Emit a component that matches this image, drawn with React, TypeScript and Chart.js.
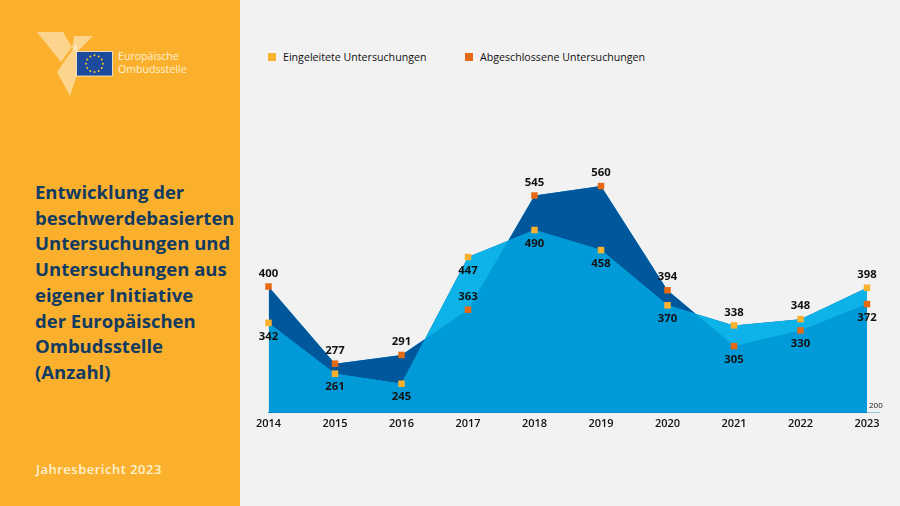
import { useEffect, useRef } from 'react'

import Chart from 'chart.js/auto'

const years = ['2014', '2015', '2016', '2017', '2018', '2019', '2020', '2021', '2022', '2023']
const eingeleitet = [342, 261, 245, 447, 490, 458, 370, 338, 348, 398]
const abgeschlossen = [400, 277, 291, 363, 545, 560, 394, 305, 330, 372]
const eingeleitetName = 'Eingeleitete Untersuchungen'
const abgeschlossenName = 'Abgeschlossene Untersuchungen'
const axisBase = 200
const axisTop = 600
// in 2017 the labels sit between the two markers
const flippedYear = '2017'

const titleLines = [
  'Entwicklung der',
  'beschwerdebasierten',
  'Untersuchungen und',
  'Untersuchungen aus',
  'eigener Initiative',
  'der Europäischen',
  'Ombudsstelle',
  '(Anzahl)',
]

const FONT = '"Open Sans", "Noto Sans", sans-serif'
const NAVY = '#123b62'
const YELLOW = '#fbb130'
const ORANGE = '#e66a14'

const valueLabels = {
  id: 'valueLabels',
  afterDatasetsDraw(chart: Chart) {
    const { ctx, scales } = chart
    ctx.save()
    ctx.font = `700 11.3px ${FONT}`
    ctx.fillStyle = '#111'
    ctx.textAlign = 'center'
    ctx.textBaseline = 'middle'
    const offset = (up: boolean) => (up ? -13 : 13.5)
    years.forEach((year, i) => {
      const x = scales.x.getPixelForValue(i)
      const a = eingeleitet[i]
      const b = abgeschlossen[i]
      const flip = year === flippedYear
      ctx.fillText(String(a), x, scales.y.getPixelForValue(a) + offset(a >= b !== flip))
      ctx.fillText(String(b), x, scales.y.getPixelForValue(b) + offset(b > a !== flip))
    })
    // small base value and the axis stub right of the last year
    const right = scales.x.right
    const base = scales.y.getPixelForValue(axisBase)
    ctx.strokeStyle = '#8fc4e4'
    ctx.lineWidth = 1
    ctx.beginPath()
    ctx.moveTo(right, base + 0.5)
    ctx.lineTo(right + 13, base + 0.5)
    ctx.stroke()
    ctx.font = `400 8px ${FONT}`
    ctx.textAlign = 'left'
    ctx.fillText(String(axisBase), right + 2, base - 6)
    ctx.restore()
  },
}

function Logo() {
  const stars = Array.from({ length: 12 }, (_, i) => (i * Math.PI) / 6)
  return (
    <svg width={200} height={110} style={{ position: 'absolute', left: 0, top: 0 }}>
      <defs>
        <pattern id="hatch" width="1.6" height="1.6" patternUnits="userSpaceOnUse" patternTransform="rotate(35)">
          <rect width="1.6" height="1.6" fill="#fff" fillOpacity="0.3" />
          <rect width="1.6" height="0.8" fill="#fff" fillOpacity="0.45" />
        </pattern>
      </defs>
      <polygon points="37,32 63,32 72,47 61,62" fill="url(#hatch)" />
      <polygon points="74,36 93,36 77,52 72,48" fill="url(#hatch)" />
      <polygon points="77,43 57,72 70,96 77,75" fill="url(#hatch)" />
      <rect x="76.5" y="51.5" width="36" height="24.5" fill="#1d4a9c" stroke="#fff3d9" strokeWidth="0.8" />
      {stars.map((a, i) => (
        <circle key={i} cx={94.5 + 8.4 * Math.cos(a)} cy={63.7 + 8.4 * Math.sin(a)} r={1} fill="#f5d020" />
      ))}
    </svg>
  )
}

export default function App() {
  const canvasRef = useRef<HTMLCanvasElement | null>(null)

  useEffect(() => {
    if (!canvasRef.current) return
    document.body.style.margin = '0'

    const chart = new Chart(canvasRef.current, {
      type: 'line',
      data: {
        labels: years,
        datasets: [
          {
            label: eingeleitetName,
            data: eingeleitet,
            showLine: false,
            pointStyle: 'rect',
            pointRadius: 4.6,
            pointBackgroundColor: YELLOW,
            pointBorderWidth: 0,
            clip: false,
          },
          {
            label: abgeschlossenName,
            data: abgeschlossen,
            showLine: false,
            pointStyle: 'rect',
            pointRadius: 4.6,
            pointBackgroundColor: ORANGE,
            pointBorderWidth: 0,
            clip: false,
          },
          {
            // band between the series: dark where closed cases lead, light where opened ones do
            data: abgeschlossen,
            borderWidth: 0,
            pointRadius: 0,
            fill: { target: 0, above: '#00579b', below: '#0cb2e8' },
          },
          { data: eingeleitet, borderWidth: 0, pointRadius: 0, fill: { target: 'origin', above: '#009ad8' } },
          { data: abgeschlossen, borderWidth: 0, pointRadius: 0, fill: { target: 'origin', above: '#009ad8' } },
        ],
      },
      options: {
        responsive: false,
        animation: false,
        layout: { padding: { left: 28.5, right: 33, top: 161, bottom: 0 } },
        plugins: { legend: { display: false }, tooltip: { enabled: false } },
        scales: {
          x: {
            offset: false,
            grid: { display: false, drawTicks: false },
            border: { color: '#0a86c8', width: 1 },
            ticks: {
              padding: 5,
              maxRotation: 0,
              autoSkip: false,
              color: '#111',
              font: { family: FONT, size: 11, weight: 600 },
            },
            afterFit: (scale) => {
              scale.height = 94
            },
          },
          y: { display: false, min: axisBase, max: axisTop },
        },
      },
      plugins: [valueLabels],
    })

    return () => {
      chart.destroy()
    }
  }, [])

  return (
    <div style={{ position: 'relative', width: 900, height: 506, background: '#f2f2f2', overflow: 'hidden', fontFamily: FONT }}>
      <div style={{ position: 'absolute', left: 0, top: 0, width: 240, height: 506, background: '#fbb02d' }}>
        <Logo />
        <div style={{ position: 'absolute', left: 118, top: 50, fontSize: 10.6, lineHeight: '13px', color: '#fff1d2' }}>
          Europäische
          <br />
          Ombudsstelle
        </div>
        <div style={{ position: 'absolute', left: 35, top: 179, fontSize: 18.5, lineHeight: '25.7px', fontWeight: 700, color: NAVY, whiteSpace: 'nowrap' }}>
          {titleLines.map((line) => (
            <div key={line}>{line}</div>
          ))}
        </div>
        <div style={{ position: 'absolute', left: 36, top: 461, fontSize: 13, lineHeight: '17px', fontWeight: 600, letterSpacing: 0.5, color: '#fff1d2', whiteSpace: 'nowrap' }}>
          Jahresbericht 2023
        </div>
      </div>
      <div style={{ position: 'absolute', left: 268, top: 50, fontSize: 10.65, lineHeight: '14px', color: '#111', whiteSpace: 'nowrap' }}>
        <span style={{ position: 'absolute', left: 0, top: 3, width: 8, height: 8, background: YELLOW }} />
        <span style={{ position: 'absolute', left: 15, top: 0 }}>{eingeleitetName}</span>
        <span style={{ position: 'absolute', left: 197, top: 3, width: 8, height: 8, background: ORANGE }} />
        <span style={{ position: 'absolute', left: 212, top: 0 }}>{abgeschlossenName}</span>
      </div>
      <canvas ref={canvasRef} width={660} height={506} style={{ position: 'absolute', left: 240, top: 0 }} />
    </div>
  )
}
